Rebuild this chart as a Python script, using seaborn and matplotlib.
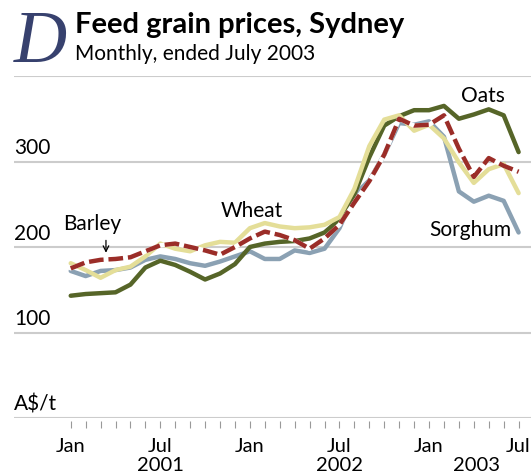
import numpy as np
import pandas as pd
import matplotlib
matplotlib.use("Agg")
import matplotlib.pyplot as plt
import matplotlib.transforms as mtransforms
import seaborn as sns

# monthly prices, Jan 2001 .. Jul 2003 (A$/t)
month_idx = list(range(31))
oats = [143, 145, 146, 147, 156, 176, 184, 179, 171, 162, 169, 180, 200, 204, 206, 207,
        210, 217, 232, 262, 305, 342, 353, 360, 360, 365, 350, 355, 361, 354, 311]
wheat = [181, 173, 164, 173, 177, 189, 204, 198, 195, 202, 206, 205, 222, 228, 224, 222,
         223, 226, 235, 268, 318, 349, 354, 336, 343, 327, 299, 275, 291, 297, 263]
sorghum = [172, 166, 172, 173, 176, 185, 189, 186, 181, 178, 183, 189, 195, 186, 186, 196,
           193, 198, 222, 261, 278, 308, 345, 343, 347, 329, 265, 253, 260, 254, 217]
barley = [175, 182, 185, 186, 188, 195, 202, 204, 200, 196, 191, 200, 210, 218, 214, 208,
          198, 210, 226, 252, 277, 308, 350, 342, 343, 354, 315, 282, 304, 295, 288]

month_ticks = [0, 6, 12, 18, 24, 30]
month_labels = ["Jan", "Jul", "Jan", "Jul", "Jan", "Jul"]
year_pos = [6, 18, 27.2]
year_labels = ["2001", "2002", "2003"]
grid_vals = [0, 100, 200, 300, 400]
ylabels = ["100", "200", "300"]

df = pd.DataFrame({"month": month_idx, "Oats": oats, "Wheat": wheat,
                   "Sorghum": sorghum, "Barley": barley})

sns.set_style("white")
plt.rcParams["font.family"] = ["Lato", "DejaVu Sans"]
plt.rcParams["text.color"] = "black"
plt.rcParams["xtick.labelcolor"] = "black"

col_oats = "#566528"
col_wheat = "#e4de98"
col_sorghum = "#8ba1b3"
col_barley = "#9b2d28"
grid_col = "#cccccc"

fig = plt.figure(figsize=(5.31, 4.76), dpi=100)
ax = fig.add_axes([14 / 531, 58 / 476, 517 / 531, 342 / 476])

for v in grid_vals:
    ax.axhline(v, color=grid_col, lw=1.5, zorder=0)

lw = 3.2
sns.lineplot(data=df, x="month", y="Sorghum", color=col_sorghum, lw=lw, ax=ax, zorder=2)
sns.lineplot(data=df, x="month", y="Oats", color=col_oats, lw=lw, ax=ax, zorder=3)
sns.lineplot(data=df, x="month", y="Wheat", color=col_wheat, lw=lw, ax=ax, zorder=4)
sns.lineplot(data=df, x="month", y="Barley", color="white", lw=lw, ax=ax, zorder=5)
sns.lineplot(data=df, x="month", y="Barley", color=col_barley, lw=lw,
             linestyle=(0, (3.3, 1.1)), ax=ax, zorder=6)

ax.set_xlim(-3.8, 30.83)
ax.set_ylim(0, 400)
ax.set_xlabel("")
ax.set_ylabel("")
for s in ax.spines.values():
    s.set_visible(False)
ax.spines["bottom"].set_position(("outward", 2.5))

ax.set_xticks(month_ticks)
ax.set_xticklabels(month_labels, fontsize=14.5, color="black")
ax.set_xticks(month_idx, minor=True)
ax.tick_params(axis="x", which="both", length=4.7, width=0.8, color="#999999",
               direction="out", bottom=True)
ax.tick_params(axis="x", which="major", pad=7)
ax.set_yticks([])

trans = mtransforms.blended_transform_factory(ax.transAxes, ax.transData)
for v, lab in zip(grid_vals[1:4], ylabels):
    ax.text(0, v + 4, lab, transform=trans, fontsize=15, ha="left", va="bottom")
ax.text(0, 4, "A$/t", transform=trans, fontsize=15, ha="left", va="bottom")

xtrans = mtransforms.blended_transform_factory(ax.transData, fig.transFigure)
for p, lab in zip(year_pos, year_labels):
    ax.text(p, 1 - 474 / 476, lab, transform=xtrans, fontsize=14.5, ha="center", va="bottom")

ax.text(1.43, 227, "Barley", fontsize=15, ha="center", va="center")
ax.annotate("", xy=(2.36, 190), xytext=(2.36, 211),
            arrowprops=dict(arrowstyle="->", color="black", lw=0.9))
ax.text(12.1, 242, "Wheat", fontsize=15, ha="center", va="center")
ax.text(27.6, 377, "Oats", fontsize=15, ha="center", va="center")
ax.text(26.75, 220, "Sorghum", fontsize=15, ha="center", va="center")

fig.text(14 / 531, 1 - 62 / 476, "D", family="Liberation Serif", style="italic",
         fontsize=53, color="#37416e", va="baseline", ha="left")
fig.text(75 / 531, 1 - 33 / 476, "Feed grain prices, Sydney", fontsize=21,
         weight="bold", va="baseline", ha="left")
fig.text(75 / 531, 1 - 60 / 476, "Monthly, ended July 2003", fontsize=15,
         va="baseline", ha="left")

fig.savefig("out.png", dpi=100)
